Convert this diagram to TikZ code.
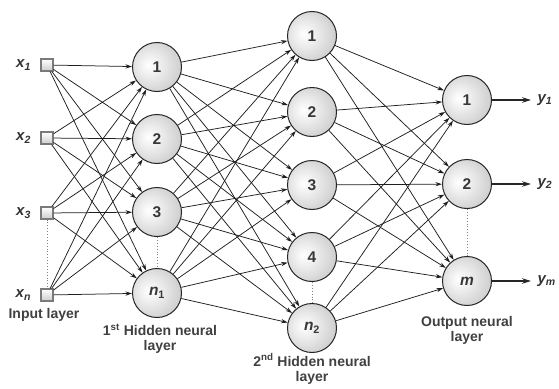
\documentclass[tikz,border=0pt]{standalone}
\usepackage{fontspec}
\setmainfont{Liberation Sans}
\usepackage{xcolor}
\usetikzlibrary{arrows.meta, positioning}
\definecolor{edgegrey}{HTML}{7A7A7A}
\pgfdeclareradialshading{neuronball}{\pgfpoint{-9bp}{2bp}}{%
  color(0bp)=(white); color(12bp)=(white!85!gray); color(32bp)=(white!58!gray);
  color(50bp)=(white!42!gray); color(60bp)=(white!38!gray)}

\begin{document}
\begin{tikzpicture}[
  x=1pt, y=-1pt,
  font=\bfseries\fontsize{14}{15}\selectfont,
  neuron/.style={circle, draw=black!85, line width=1pt, shading=neuronball,
                 minimum size=49pt, inner sep=0pt, text=black!78,
                 font=\bfseries\fontsize{15.5}{16}\selectfont},
  inbox/.style={draw=edgegrey, line width=1.1pt, top color=white, bottom color=gray!40,
                minimum size=12pt, inner sep=0pt},
  conn/.style={-{Stealth[length=6.5pt, width=4.2pt]}, line width=0.75pt, black!88},
  outarr/.style={-{Stealth[length=9pt, width=5.5pt]}, line width=1.3pt, black!85},
  gap/.style={dotted, gray, line width=0.9pt},
  lbl/.style={align=center, text=black!75, inner sep=1pt},
  var/.style={text=black!80, font=\bfseries\itshape\fontsize{15}{16}\selectfont},
  node distance=6pt,
]
\useasboundingbox (0,0) rectangle (559,388);

% input layer
\foreach \i/\yy in {1/65, 2/138, 3/213, n/295} {
  \node[inbox] (x\i) at (47,\yy) {};
  \node[var, left=of x\i] (xl\i) {x\textsubscript{\i}};
}

% 1st hidden layer
\foreach \i/\yy/\t in {1/67/1, 2/139/2, 3/212/3, 4/293/{\textit{n}\textsubscript{1}}}
  \node[neuron] (ha\i) at (157,\yy) {\t};

% 2nd hidden layer
\foreach \i/\yy/\t in {1/36/1, 2/112/2, 3/185/3, 4/257/4, 5/328/{\textit{n}\textsubscript{2}}}
  \node[neuron] (hb\i) at (312,\yy) {\t};

% output layer
\foreach \i/\yy/\t/\s in {1/100/1/1, 2/184/2/2, 3/281/{\textit{m}}/m} {
  \node[neuron] (o\i) at (467,\yy) {\t};
  \coordinate (oe\i) at (531,\yy);
  \node[var, right=3pt of oe\i] (yl\i) {y\textsubscript{\s}};
  \draw[outarr] (o\i) -- (oe\i);
}

% connections
\foreach \a in {1,2,3,n}
  \foreach \b in {1,...,4}
    \draw[conn] (x\a) -- (ha\b);
\foreach \a in {1,...,4}
  \foreach \b in {1,...,5}
    \draw[conn] (ha\a) -- (hb\b);
\foreach \a in {1,...,5}
  \foreach \b in {1,2,3}
    \draw[conn] (hb\a) -- (o\b);

% omitted units
\draw[gap] (x3) -- (xn);
\draw[gap] (ha3) -- (ha4);
\draw[gap] (hb4) -- (hb5);
\draw[gap] (o2) -- (o3);

% layer names
\node[lbl] (inlbl) at (44,315) {Input layer};
\node[lbl] (h1lbl) at (160,339) {1\textsuperscript{st} Hidden neural\\layer};
\node[lbl] (h2lbl) at (312,369) {2\textsuperscript{nd} Hidden neural\\layer};
\node[lbl] (outlbl) at (467,330) {Output neural\\layer};
\end{tikzpicture}
\end{document}
